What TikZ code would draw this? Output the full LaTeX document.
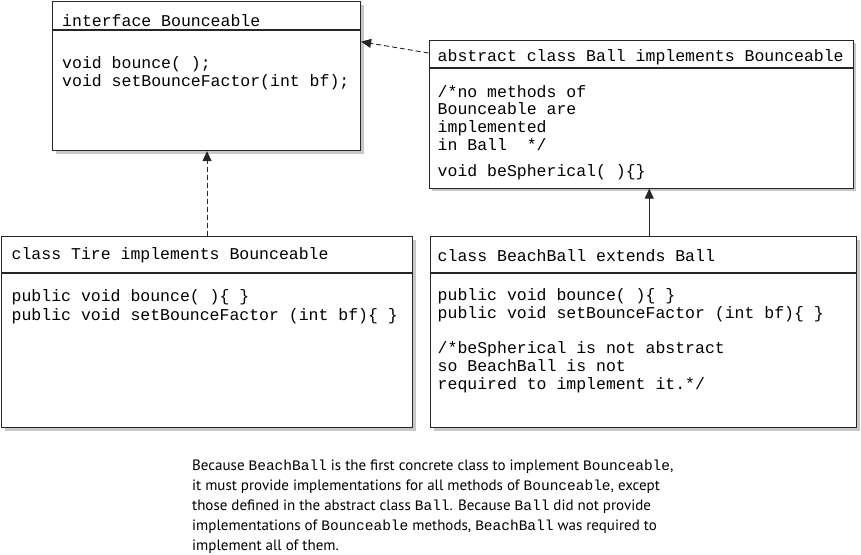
\documentclass[tikz,border=0pt]{standalone}
\usepackage{fontspec}
\setmonofont{Liberation Mono}
\setsansfont{PT Sans}
\usetikzlibrary{arrows.meta,shadows}
\newcommand{\cm}[1]{{\ttfamily\fontsize{14.5}{20}\selectfont #1}}
\begin{document}
\begin{tikzpicture}[x=1pt,y=-1pt,
  umlbox/.style={draw=black!85, line width=1.1pt, fill=white, anchor=north west, inner sep=0pt,
    drop shadow={shadow xshift=3pt, shadow yshift=-3pt, fill=black!22, opacity=1}},
  codetext/.style={anchor=base west, inner sep=0pt, font=\ttfamily\fontsize{16.5}{18}\selectfont, align=left, text=black},
  sep/.style={draw=black!85, line width=1.1pt},
  dasharrow/.style={draw=black!85, line width=0.9pt, dash pattern=on 5pt off 3pt, -{Triangle[length=10pt,width=9pt]}},
  solidarrow/.style={draw=black!85, line width=0.9pt, -{Triangle[length=10pt,width=9pt]}}
]
\useasboundingbox[fill=white] (0,0) rectangle (861,554);

% boxes
\node[umlbox, minimum width=308pt, minimum height=149pt] (iface) at (52,1) {};
\node[umlbox, minimum width=424pt, minimum height=148pt] (ball) at (428.5,39.5) {};
\node[umlbox, minimum width=411pt, minimum height=191pt] (tire) at (1,236) {};
\node[umlbox, minimum width=426pt, minimum height=191pt] (bb) at (430,236) {};

% header separators
\draw[sep] ([yshift=-29pt]iface.north west) -- ([yshift=-29pt]iface.north east);
\draw[sep] ([yshift=-28.5pt]ball.north west) -- ([yshift=-28.5pt]ball.north east);
\draw[sep] ([yshift=-37pt]tire.north west) -- ([yshift=-37pt]tire.north east);
\draw[sep] ([yshift=-37pt]bb.north west) -- ([yshift=-37pt]bb.north east);

% texts (base anchor = baseline of last line)
\node[codetext] (ifaceh) at (62,26) {interface Bounceable};
\node[codetext] (ifaceb) at (62,86) {void bounce( );\\void setBounceFactor(int bf);};

\node[codetext] (ballh) at (437.5,61.5) {abstract class Ball implements Bounceable};
\node[codetext, font=\ttfamily\fontsize{16.5}{17.6}\selectfont] (ballb) at (437.5,150) {/*no methods of\\Bounceable are\\implemented\\in Ball~~*/};
\node[codetext] (ballm) at (437.5,176) {void beSpherical( )\{\}};

\node[codetext] (tireh) at (11.5,259.5) {class Tire implements Bounceable};
\node[codetext, font=\ttfamily\fontsize{16.5}{19}\selectfont] (tireb) at (11.5,320) {public void bounce( )\{ \}\\public void setBounceFactor (int bf)\{ \}};

\node[codetext] (bbh) at (437.5,261) {class BeachBall extends Ball};
\node[codetext, font=\ttfamily\fontsize{16.5}{17.8}\selectfont] (bbb) at (437.5,318.5) {public void bounce( )\{ \}\\public void setBounceFactor (int bf)\{ \}};
\node[codetext] (bbc) at (437.5,389.5) {/*beSpherical is not abstract\\so BeachBall is not\\required to implement it.*/};

% connectors
\draw[dasharrow] ([yshift=-13.5pt]ball.north west) -- ([yshift=-40.7pt]iface.north east);
\draw[dasharrow] (tire.north) -- (tire.north |- iface.south);
\draw[solidarrow] ([xshift=5.7pt]bb.north) -- ([xshift=5.7pt]bb.north |- ball.south);

% caption
\node[anchor=base west, inner sep=0pt, align=left, font=\sffamily\fontsize{15}{20}\selectfont] (caption) at (192,550)
{Because \cm{BeachBall} is the first concrete class to implement \cm{Bounceable},\\
it must provide implementations for all methods of \cm{Bounceable}, except\\
those defined in the abstract class \cm{Ball}. Because \cm{Ball} did not provide\\
implementations of \cm{Bounceable} methods, \cm{BeachBall} was required to\\
implement all of them.};
\end{tikzpicture}
\end{document}
